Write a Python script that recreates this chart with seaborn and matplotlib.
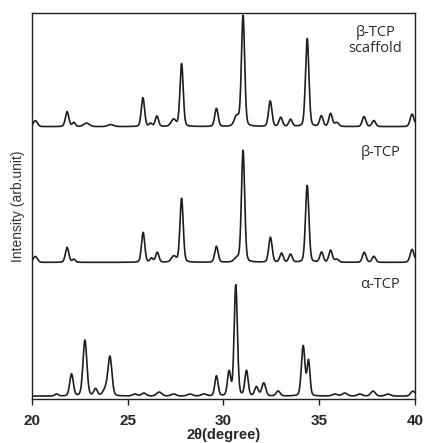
import numpy as np
import pandas as pd
import matplotlib
matplotlib.use("Agg")
import matplotlib.pyplot as plt
import seaborn as sns

# ---------------- peak lists ----------------
# position (2theta), height (arb.), fwhm (deg)
scaf_pos = [20.18, 21.84, 22.19, 22.85, 24.12, 25.80, 26.20, 26.53, 27.40, 27.82, 29.64,
            30.70, 31.03, 32.45, 33.00, 33.51, 34.38, 35.12, 35.60, 35.92, 37.35, 37.86, 39.86]
scaf_h = [6, 15, 4, 3.5, 2, 29, 3, 10.5, 7, 63, 18,
          10, 111, 25.5, 9, 7, 88, 10.5, 13, 4, 10, 6, 12.5]
scaf_w = [0.25, 0.21, 0.19, 0.35, 0.35, 0.2, 0.19, 0.2, 0.3, 0.2, 0.21,
          0.3, 0.2, 0.21, 0.21, 0.21, 0.21, 0.21, 0.21, 0.25, 0.22, 0.22, 0.24]

beta_pos = [20.18, 21.84, 22.19, 25.81, 26.25, 26.55, 27.41, 27.82, 29.64, 30.70,
            31.03, 32.46, 33.04, 33.51, 34.38, 35.13, 35.60, 35.92, 37.36, 37.86, 39.86]
beta_h = [6, 15, 3, 30, 4, 10, 6, 64, 16, 4,
          112, 25, 9, 8, 77, 10, 12, 3, 10, 6, 13]
beta_w = [0.25, 0.21, 0.19, 0.2, 0.19, 0.2, 0.3, 0.2, 0.21, 0.3,
          0.2, 0.21, 0.21, 0.21, 0.21, 0.21, 0.21, 0.25, 0.22, 0.22, 0.24]

alpha_pos = [21.29, 22.07, 22.77, 23.33, 23.86, 24.08, 25.38, 25.85, 26.65, 27.40, 28.25,
             28.98, 29.64, 30.30, 30.65, 31.21, 31.73, 32.11, 32.86, 34.17, 34.45,
             35.82, 36.34, 37.13, 37.82, 38.60, 39.90]
alpha_h = [2, 22, 56, 7, 7, 38, 2, 3, 4, 2, 2,
           2, 20, 24, 111, 25, 9, 13, 5, 50, 35,
           2, 3, 2, 5, 2, 5]
alpha_w = [0.22, 0.22, 0.24, 0.22, 0.32, 0.24, 0.28, 0.28, 0.32, 0.32, 0.32,
           0.32, 0.2, 0.2, 0.2, 0.2, 0.22, 0.24, 0.24, 0.22, 0.18,
           0.32, 0.32, 0.32, 0.28, 0.32, 0.28]

samples = ["α-TCP", "β-TCP", "β-TCP\nscaffold"]
offsets = [0, 134, 270]


def pattern(x, pos, h, w):
    y = np.zeros_like(x)
    for p, a, fw in zip(pos, h, w):
        s = fw / 2.355
        g = np.exp(-0.5 * ((x - p) / s) ** 2)
        l = 1.0 / (1.0 + ((x - p) / (fw / 2)) ** 2)
        y += a * (0.8 * g + 0.2 * l)
    return y


x = np.linspace(20, 40, 2001)
frames = []
for name, off, (pos, h, w) in zip(samples, offsets,
                                  [(alpha_pos, alpha_h, alpha_w),
                                   (beta_pos, beta_h, beta_w),
                                   (scaf_pos, scaf_h, scaf_w)]):
    frames.append(pd.DataFrame({"theta": x, "intensity": pattern(x, pos, h, w) + off,
                                "sample": name}))
df = pd.concat(frames, ignore_index=True)

# ---------------- plot ----------------
sns.set_style("ticks")
plt.rcParams["font.family"] = ["Liberation Sans", "DejaVu Sans"]

fig = plt.figure(figsize=(4.25, 4.43), dpi=100)
ax = fig.add_axes([0.075, 0.099, 0.901, 0.872])

sns.lineplot(data=df, x="theta", y="intensity", units="sample", estimator=None,
             color="#1e1e1e", linewidth=1.2, ax=ax, legend=False)

ax.set_xlim(20, 40)
ax.set_ylim(-3, 384)
ax.set_xticks([20, 25, 30, 35, 40])
ax.set_yticks([])
for lab in ax.get_xticklabels():
    lab.set_fontweight("bold")
ax.tick_params(axis="x", labelsize=11, length=4.5, width=1, direction="out", pad=6)
for sp in ax.spines.values():
    sp.set_linewidth(1.0)
    sp.set_color("#222222")

ax.set_xlabel("2θ(degree)", fontsize=10.5, fontweight="bold", labelpad=0)
ax.set_ylabel("Intensity (arb.unit)", fontsize=10, color="#333333", labelpad=5)

lab_font = ["Open Sans", "DejaVu Sans"]
ax.text(37.95, 356, "β-TCP\nscaffold", ha="center", va="center", fontsize=10.5,
        family=lab_font, color="#2a2a2a", linespacing=1.1)
ax.text(38.2, 244, "β-TCP", ha="center", va="center", fontsize=10.5,
        family=lab_font, color="#2a2a2a")
ax.text(38.2, 112, "α-TCP", ha="center", va="center", fontsize=10.5,
        family=lab_font, color="#2a2a2a")

fig.savefig("out.png", dpi=100)
